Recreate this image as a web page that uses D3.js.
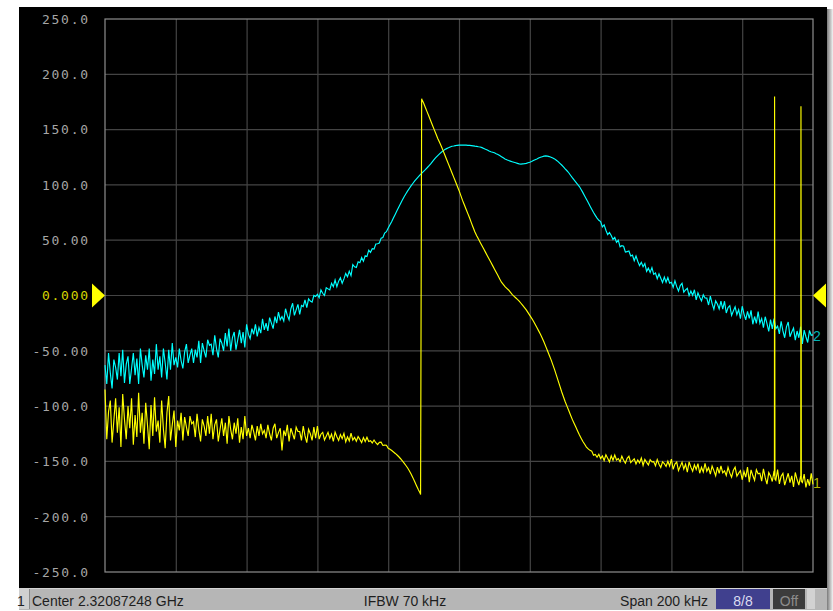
<!DOCTYPE html>
<html>
<head>
<meta charset="utf-8">
<script src="https://cdn.jsdelivr.net/npm/d3@7"></script>
<style>
  body { margin: 0; background: #fff; }
  svg { display: block; }
</style>
</head>
<body>
<script>
// sweep: center 2.32087248 GHz, span 200 kHz, offsets in kHz, 0.5 kHz per point
const freqs = d3.range(-100, 100.25, 0.5);

// trace 2 (cyan)
const trace2 = [
  -63, -80, -52, -70, -84, -58, -65, -76, -52, -73, -49, -79, -62, -55, -80, -66, -52, -72, -57, -80,
  -48, -63, -74, -54, -67, -48, -77, -58, -71, -44, -67, -55, -74, -48, -61, -76, -49, -67, -43, -63,
  -56, -65, -48, -59, -66, -51, -44, -61, -54, -48, -61, -49, -56, -41, -61, -43, -50, -56, -40, -45,
  -44, -54, -36, -48, -56, -39, -43, -50, -34, -46, -30, -50, -38, -33, -49, -40, -31, -43, -33, -47,
  -26, -35, -39, -30, -35, -26, -37, -29, -34, -21, -31, -25, -32, -20, -25, -30, -19, -25, -15, -22,
  -19, -23, -12, -18, -22, -12, -7, -18, -13, -8, -17, -9, -10, -4, -11, -3, -5, -6, 0, -1,
  1, -2, 5, 2, 0, 7, 6, 5, 11, 8, 14, 8, 13, 16, 11, 15, 20, 17, 22, 18,
  28, 26, 25.4, 30.5, 29.6, 34.4, 31, 35.9, 35.2, 41, 39, 42.3, 41.9, 46.6, 46.8, 47.5, 51.9, 52.4, 56.5, 57.7,
  61.1, 64, 67, 70.3, 73.5, 76.8, 80, 83.2, 86.3, 89.3, 92, 94.6, 97, 99.3, 101.5, 103.6, 105.5, 107.3, 109, 110.6,
  112.2, 113.8, 115.5, 117.3, 119, 121, 123, 124.8, 126.5, 128, 129.5, 130.8, 132, 132.8, 133.5, 134.3, 135, 135.2, 135.5, 135.8,
  136, 136, 136, 136, 136, 135.8, 135.7, 135.5, 135.3, 135, 134.8, 134.5, 134.3, 133.7, 133, 132.2, 131.5, 130.7, 130, 129.5,
  129, 128.2, 127.5, 126.5, 125.5, 124.5, 123.5, 122.7, 122, 121.5, 121, 120.5, 120, 119.5, 119, 118.8, 119, 119.2, 119.5, 120,
  120.5, 121.2, 122, 122.8, 123.5, 124.3, 125, 125.5, 126, 126.2, 126, 125.6, 125, 124.3, 123.5, 122.3, 121, 119.5, 118, 116.3,
  114.5, 112.8, 111, 108.7, 106.5, 104.5, 102.5, 100.5, 98.5, 95.8, 93, 90, 87, 84, 81, 78, 75, 72.5, 70, 68,
  66.8, 62, 63.8, 59, 55, 57, 54.3, 50.7, 52.5, 48, 50, 44, 45, 44.5, 39.2, 39.7, 40.2, 35.7, 36.5, 31.5,
  35.7, 31, 27, 30, 26, 28.8, 21.8, 24.7, 20.9, 25.2, 19.1, 20.3, 15.2, 19.5, 15.6, 11.7, 16.6, 12, 16.2, 11.2,
  12, 7.4, 13.3, 8, 4, 9, 11, 3, 5, 6.5, -0.1, 4, 0.2, 5.2, -4, 2.4, -1.5, -4.9, 0.7, -2.3,
  -2.4, -8.6, -0.5, -7.3, -12.5, -4.9, -7.7, -12.2, -5.1, -12.3, -5.2, -15.8, -10.9, -9.2, -18, -14, -10.2, -17.3, -12.8, -21,
  -9.7, -16.6, -22.1, -14.4, -20.6, -13.5, -26, -19, -25.2, -14.6, -25, -20.8, -29.1, -19.2, -25.4, -32.4, -21.8, -30.1, -20.9, -30,
  -27.7, -34.7, -23.3, -32, -38.2, -28.3, -24, -37.3, -33, -29.5, -40.4, -32.1, -38.2, -28.2, -43.7, -31.3, -37.3, -42.5, -31.6, -36,
  -35.6
];

// trace 1 (yellow)
const trace1 = [
  -85, -130, -105, -95, -133, -113, -93, -124, -101, -137, -89, -112, -130, -100, -120, -93, -135, -108, -128, -88,
  -124, -106, -134, -97, -117, -139, -99, -127, -92, -123, -113, -133, -95, -121, -138, -106, -91, -131, -117, -104,
  -137, -113, -122, -106, -131, -110, -119, -127, -109, -116, -114, -128, -107, -121, -132, -112, -118, -127, -109, -125,
  -107, -130, -117, -112, -132, -121, -111, -127, -115, -134, -109, -121, -130, -115, -125, -111, -133, -119, -130, -109,
  -127, -120, -129, -117, -123, -131, -118, -127, -116, -125, -122, -129, -117, -125, -131, -120, -116, -129, -124, -120,
  -140, -122, -127, -117, -132, -120, -125, -130, -119, -123, -123, -131, -118, -127, -133, -121, -125, -131, -119, -129,
  -118, -129.8, -125.4, -123.8, -130.6, -127.2, -123.7, -129.3, -125.4, -131.9, -123.5, -127.7, -131, -125.8, -129.5, -124.7, -132.4, -127.7, -131.4, -124.4,
  -130.8, -128.3, -131.8, -127.5, -130.1, -133, -128.4, -132, -128.1, -132, -131.3, -133.3, -130.7, -133.1, -134.9, -132.8, -132.6, -135.6, -135.3, -135.4,
  -138.2, -139, -140.2, -141.5, -142.8, -144.2, -145.8, -147.6, -149.5, -151.5, -153.7, -156, -158.6, -161.6, -164.9, -168.4, -172, -175.5, -178.5, 177.5,
  174, 170, 166, 162, 158, 154, 150, 146, 142, 138.5, 135, 131, 127, 123, 119, 115, 111, 107, 103, 99,
  95, 90.5, 86, 82, 78, 74, 70, 65.7, 61.5, 57.5, 54, 51, 48, 45, 42, 39, 36, 33, 30, 27,
  24, 21, 18, 15, 12, 10, 8, 6.5, 5, 3, 1, -0.5, -2, -3.5, -5, -7, -9, -11, -13, -15.5,
  -18, -20.5, -23, -26, -29, -32, -35, -38.5, -42, -46, -50, -54, -58, -62.5, -67, -72, -77, -82, -87, -91.5,
  -96, -100, -104, -108, -112, -115.5, -119, -122.5, -126, -129, -132, -134.5, -137, -138.7, -140, -140.7, -144.4, -143.7, -146.2, -143.5,
  -147.4, -145.1, -149.2, -144, -147.1, -150.4, -145, -149, -144.2, -148.7, -147.4, -150.4, -145.3, -149, -151.6, -147.2, -145.3, -151.1, -149.2, -147.6,
  -152.3, -148.7, -151.3, -146.9, -153.7, -148.3, -150.9, -153.2, -148.5, -150.4, -150.2, -153.9, -148.4, -152.5, -155.5, -150.4, -152, -154.6, -149.9, -154.2,
  -148, -157.2, -152.4, -150.6, -158.3, -154.5, -150.7, -156.9, -152.6, -159.8, -150.5, -155.2, -158.9, -153.1, -157.3, -152, -160.7, -155.4, -159.6, -151.8,
  -159, -155.7, -161.4, -154.1, -158.3, -163, -155.2, -160.9, -154.1, -160.3, -158.5, -162.7, -155.4, -160.6, -164.3, -158, -155.2, -163.4, -160.6, -158.3,
  -166.6, -159.1, -164.2, -155.2, -168.7, -157.7, -162.8, -167.1, -157.5, -161.2, -160.7, -167.8, -156.8, -164.7, -170.5, -160.1, -163.1, -168.2, -158.6, -167.1,
  -157.5, -170.3, -163.5, -160.8, -171.5, -166.1, -160.7, -169.2, -163.1, -173.1, -160, -166.4, -171.5, -163.3, -169.1, -161.5, -173.6, -166.1, -171.9, -160.8,
  -170.8
];

// trace 1 steps between sweep points: the jump and the two spikes
const trace1StepF = [-10.85, -10.55, 89.1, 89.15, 89.2, 89.25, 96.55, 96.6, 96.65, 96.7];
const trace1StepV = [-180, 178, -163, 180, 5, -166, -164, 171, 2, -168];

const yTicks = [250, 200, 150, 100, 50, 0, -50, -100, -150, -200, -250];
const yTickLabels = ["250.0", "200.0", "150.0", "100.0", "50.00", "0.000", "-50.00", "-100.0", "-150.0", "-200.0", "-250.0"];
const xTicks = d3.range(-100, 101, 20);

const statusItems = ["Center 2.32087248 GHz", "IFBW 70 kHz", "Span 200 kHz"];

const W = 833, H = 611;
const svg = d3.select("body").append("svg").attr("width", W).attr("height", H);

const x = d3.scaleLinear().domain([-100, 100]).range([105, 813]);
const y = d3.scaleLinear().domain([-250, 250]).range([572, 19]);

// shadow on the right side of the panel
const grad = svg.append("defs").append("linearGradient").attr("id", "shade");
grad.append("stop").attr("offset", "0%").attr("stop-color", "#7a7a7a");
grad.append("stop").attr("offset", "100%").attr("stop-color", "#f4f4f4");
svg.append("rect").attr("x", 827).attr("y", 9).attr("width", 6).attr("height", 601).attr("fill", "url(#shade)");

// black panel
svg.append("rect").attr("x", 19).attr("y", 7).attr("width", 808).attr("height", 581).attr("fill", "#000");

// grid
const grid = svg.append("g");
grid.selectAll(".gx").data(xTicks.slice(1, -1)).enter().append("line")
  .attr("x1", d => x(d) + 0.5).attr("x2", d => x(d) + 0.5)
  .attr("y1", y(250)).attr("y2", y(-250))
  .attr("stroke", "#444").attr("stroke-width", 1.2);
grid.selectAll(".gy").data(yTicks.slice(1, -1)).enter().append("line")
  .attr("x1", x(-100)).attr("x2", x(100))
  .attr("y1", d => y(d)).attr("y2", d => y(d))
  .attr("stroke", "#444").attr("stroke-width", 1.2);
svg.append("rect")
  .attr("x", x(-100)).attr("y", y(250))
  .attr("width", x(100) - x(-100)).attr("height", y(-250) - y(250))
  .attr("fill", "none").attr("stroke", "#8e8e8e").attr("stroke-width", 1.2);

// y tick labels, fixed advance per character like the instrument font
svg.append("g").selectAll("text").data(yTicks).enter().append("text")
  .attr("x", 88).attr("y", d => y(d) + 4.8)
  .attr("text-anchor", "end")
  .attr("textLength", (d, i) => yTickLabels[i].length * 9.4 - 1)
  .attr("lengthAdjust", "spacing")
  .style("font-family", "'DejaVu Sans Mono', monospace")
  .style("font-size", "13px")
  .attr("fill", d => d === 0 ? "#d6d600" : "#a6a6a6")
  .text((d, i) => yTickLabels[i]);

// reference markers
svg.append("path").attr("d", `M${x(-100)},${y(0)} L${x(-100) - 13},${y(0) - 12} L${x(-100) - 13},${y(0) + 12} Z`).attr("fill", "#ffff00");
svg.append("path").attr("d", `M${x(100)},${y(0)} L${x(100) + 13},${y(0) - 12} L${x(100) + 13},${y(0) + 12} Z`).attr("fill", "#ffff00");

const line = d3.line().x(d => x(d[0])).y(d => y(d[1]));

const pts2 = freqs.map((f, i) => [f, trace2[i]]);
const pts1 = freqs.map((f, i) => [f, trace1[i]])
  .concat(trace1StepF.map((f, i) => [f, trace1StepV[i]]))
  .sort((a, b) => a[0] - b[0]);

svg.append("path").datum(pts2).attr("d", line)
  .attr("fill", "none").attr("stroke", "#00ffff").attr("stroke-width", 1.15);
svg.append("path").datum(pts1).attr("d", line)
  .attr("fill", "none").attr("stroke", "#ffff00").attr("stroke-width", 1.15);

// trace end labels
const end2 = d3.mean(trace2.slice(-8));
const end1 = d3.mean(trace1.slice(-8));
svg.append("text").attr("x", 813).attr("y", y(end2) + 6)
  .style("font-family", "'Liberation Sans', Arial, sans-serif").style("font-size", "14px")
  .attr("fill", "#00b4b4").text("2");
svg.append("text").attr("x", 813).attr("y", y(end1) + 8)
  .style("font-family", "'Liberation Sans', Arial, sans-serif").style("font-size", "14px")
  .attr("fill", "#b8b800").text("1");

// status bar
const bar = svg.append("g");
bar.append("rect").attr("x", 19).attr("y", 588).attr("width", 808).attr("height", 22).attr("fill", "#b6b6b6");
bar.append("line").attr("x1", 19).attr("x2", 827).attr("y1", 588.5).attr("y2", 588.5).attr("stroke", "#d4d4d4");
bar.append("rect").attr("x", 19).attr("y", 589).attr("width", 10).attr("height", 20).attr("fill", "#d0d0d0");
bar.append("text").attr("x", 17).attr("y", 606).attr("fill", "#222")
  .style("font-family", "'Liberation Sans', Arial, sans-serif").style("font-size", "14px").text("1");
bar.append("rect").attr("x", 29).attr("y", 589).attr("width", 1).attr("height", 20).attr("fill", "#8a8a8a");

const statusFont = "'Liberation Sans', Arial, sans-serif";
const statusPos = [{x: 32, a: "start"}, {x: 405, a: "middle"}, {x: 708, a: "end"}];
bar.selectAll(".st").data(statusItems).enter().append("text")
  .attr("x", (d, i) => statusPos[i].x).attr("y", 606)
  .attr("text-anchor", (d, i) => statusPos[i].a)
  .style("font-family", statusFont).style("font-size", "14px")
  .attr("fill", "#1e1e1e").text(d => d);

bar.append("rect").attr("x", 716).attr("y", 589).attr("width", 54).attr("height", 20).attr("fill", "#40408e");
bar.append("text").attr("x", 743).attr("y", 606).attr("text-anchor", "middle")
  .style("font-family", statusFont).style("font-size", "14px").attr("fill", "#dcdcf0").text("8/8");
bar.append("rect").attr("x", 773).attr("y", 589).attr("width", 32).attr("height", 20).attr("fill", "#3c3c3c");
bar.append("text").attr("x", 789).attr("y", 606).attr("text-anchor", "middle")
  .style("font-family", statusFont).style("font-size", "14px").attr("fill", "#8c8c8c").text("Off");
bar.append("rect").attr("x", 807).attr("y", 589).attr("width", 8).attr("height", 20).attr("fill", "#d2d2d2");
</script>
</body>
</html>
